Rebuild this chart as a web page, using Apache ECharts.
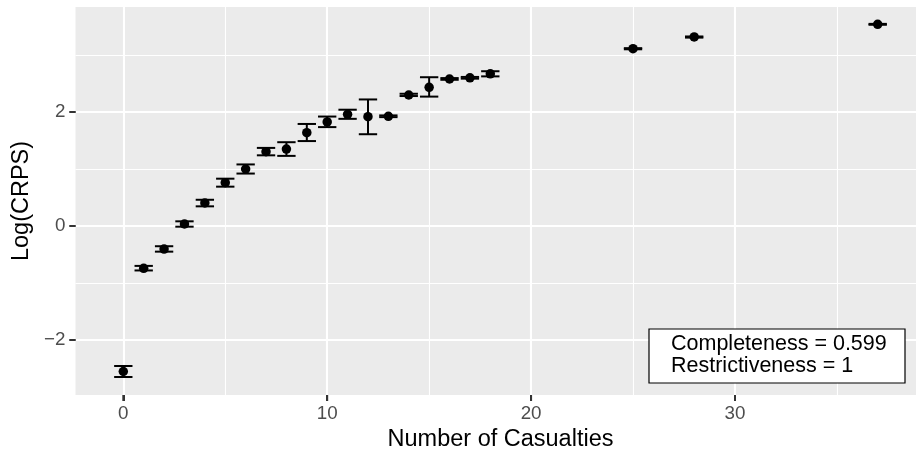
<!DOCTYPE html>
<html>
<head>
<meta charset="utf-8">
<script src="https://cdn.jsdelivr.net/npm/echarts@6/dist/echarts.min.js"></script>
<style>
html,body{margin:0;padding:0;background:#fff;}
#chart{width:916px;height:453px;}
</style>
</head>
<body>
<div id="chart"></div>
<script>
// ---- data ----
var casualties = [0,1,2,3,4,5,6,7,8,9,10,11,12,13,14,15,16,17,18,25,28,37];
var logCrps    = [-2.553,-0.742,-0.404,0.035,0.404,0.760,1.000,1.304,1.350,1.637,1.825,1.960,1.918,1.925,2.298,2.433,2.579,2.600,2.670,3.110,3.316,3.538];
var lowerCI    = [-2.649,-0.780,-0.450,-0.012,0.345,0.690,0.920,1.240,1.230,1.490,1.735,1.880,1.610,1.910,2.280,2.270,2.565,2.585,2.625,3.100,3.305,3.530];
var upperCI    = [-2.456,-0.700,-0.355,0.082,0.460,0.830,1.080,1.370,1.470,1.790,1.920,2.040,2.220,1.940,2.320,2.610,2.595,2.615,2.715,3.120,3.325,3.546];
var xMajorTicks = [0,10,20,30];
var xMinorTicks = [5,15,25,35];
var yMajorTicks = [-2,0,2];
var yMinorTicks = [-1,1,3];
var annotationLines = ['Completeness = 0.599','Restrictiveness = 1'];
var xTitle = 'Number of Casualties';
var yTitle = 'Log(CRPS)';

var errorBarWidth = 0.9;
var xMin = -2.345, xMax = 39.345;
var yMin = -2.965, yMax = 3.842;
var TICK_LEN = 6;

var pointData = casualties.map(function(c,i){return [c, logCrps[i]];});
var barData = casualties.map(function(c,i){return [c, lowerCI[i], upperCI[i]];});

var FONT = 'Liberation Sans, Arial, sans-serif';
var chart = echarts.init(document.getElementById('chart'), null, {renderer:'canvas'});
var clearLine = {show:true, onZero:false, lineStyle:{color:'rgba(0,0,0,0)', width:1}};

var option = {
  animation:false,
  backgroundColor:'#ffffff',
  grid:{left:75.5, top:7, width:850, height:388, containLabel:false, outerBoundsMode:'none',
        show:true, backgroundColor:'#EBEBEB', borderWidth:0},
  xAxis:[{
    type:'value', min:xMin, max:xMax, position:'bottom',
    name:xTitle, nameLocation:'middle', nameGap:32,
    nameTextStyle:{color:'#000', fontSize:23.5, fontFamily:FONT},
    axisLine:clearLine,
    axisTick:{show:true, inside:false, length:TICK_LEN, customValues:xMajorTicks, lineStyle:{color:'#333333', width:2}},
    axisLabel:{show:true, customValues:xMajorTicks, margin:9, color:'#4D4D4D', fontSize:18.8, fontFamily:FONT},
    splitLine:{show:true, lineStyle:{color:'#ffffff', width:2.1}}
  },{
    type:'value', min:xMin, max:xMax, position:'bottom',
    axisLine:{show:false, onZero:false},
    axisTick:{show:false, customValues:xMinorTicks},
    axisLabel:{show:false, customValues:xMinorTicks},
    splitLine:{show:true, lineStyle:{color:'#ffffff', width:1.1}}
  }],
  yAxis:[{
    type:'value', min:yMin, max:yMax, position:'left',
    name:yTitle, nameLocation:'middle', nameGap:42, nameRotate:90,
    nameTextStyle:{color:'#000', fontSize:23.5, fontFamily:FONT},
    axisLine:clearLine,
    axisTick:{show:true, inside:false, length:TICK_LEN, customValues:yMajorTicks, lineStyle:{color:'#333333', width:2}},
    axisLabel:{show:true, customValues:yMajorTicks, margin:10, color:'#4D4D4D', fontSize:18.8, fontFamily:FONT,
      formatter:function(v){return v<0 ? '\u2212'+Math.abs(v) : String(v);}},
    splitLine:{show:true, lineStyle:{color:'#ffffff', width:2.1}}
  },{
    type:'value', min:yMin, max:yMax, position:'left',
    axisLine:{show:false, onZero:false},
    axisTick:{show:false, customValues:yMinorTicks},
    axisLabel:{show:false, customValues:yMinorTicks},
    splitLine:{show:true, lineStyle:{color:'#ffffff', width:1.1}}
  }],
  series:[{
    type:'custom',
    xAxisIndex:0, yAxisIndex:0,
    data:barData,
    z:3,
    renderItem:function(params, api){
      var x = api.value(0), lo = api.value(1), hi = api.value(2);
      var pLo = api.coord([x, lo]), pHi = api.coord([x, hi]);
      var half = api.size([errorBarWidth/2, 0])[0];
      var st = {stroke:'#000', lineWidth:2, fill:null};
      return {type:'group', children:[
        {type:'line', shape:{x1:pLo[0], y1:pLo[1], x2:pHi[0], y2:pHi[1]}, style:st},
        {type:'line', shape:{x1:pLo[0]-half, y1:pLo[1], x2:pLo[0]+half, y2:pLo[1]}, style:st},
        {type:'line', shape:{x1:pHi[0]-half, y1:pHi[1], x2:pHi[0]+half, y2:pHi[1]}, style:st}
      ]};
    }
  },{
    type:'scatter',
    xAxisIndex:0, yAxisIndex:0,
    data:pointData,
    symbol:'circle', symbolSize:9.5,
    itemStyle:{color:'#000', opacity:1},
    z:4
  }]
};
chart.setOption(option);

// annotation box, plus tick marks placed through the chart's own scales
var els = [
  {type:'rect', id:'box', z:100, x:649, y:329, shape:{x:0, y:0, width:256, height:54}, style:{fill:'#fff', stroke:'#000', lineWidth:1.2}},
  {type:'text', id:'boxText', z:101, x:671, y:333, style:{text:annotationLines.join('\n'), fontSize:21.5, lineHeight:22.3, fontFamily:FONT, fill:'#000', textAlign:'left', textVerticalAlign:'top'}}
];
xMajorTicks.forEach(function(v, i){
  var p = chart.convertToPixel({xAxisIndex:0}, v);
  var py = chart.convertToPixel({yAxisIndex:0}, yMin);
  if (isFinite(p) && isFinite(py)) {
    els.push({type:'rect', id:'xt'+i, z:120, shape:{x:p-1, y:py, width:2, height:TICK_LEN}, style:{fill:'#333333'}});
  }
});
yMajorTicks.forEach(function(v, i){
  var px = chart.convertToPixel({xAxisIndex:0}, xMin);
  var p = chart.convertToPixel({yAxisIndex:0}, v);
  if (isFinite(p) && isFinite(px)) {
    els.push({type:'rect', id:'yt'+i, z:120, shape:{x:px-TICK_LEN, y:p-1, width:TICK_LEN, height:2}, style:{fill:'#333333'}});
  }
});
chart.setOption({graphic:{elements:els}});
</script>
</body>
</html>
